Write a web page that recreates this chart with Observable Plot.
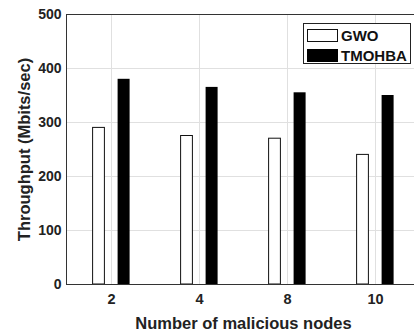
<!DOCTYPE html>
<html>
<head>
<meta charset="utf-8">
<script src="https://cdn.jsdelivr.net/npm/d3@7"></script>
<script src="https://cdn.jsdelivr.net/npm/@observablehq/plot@0.6"></script>
<style>
  html, body { margin: 0; padding: 0; background: white; }
  #wrap { position: relative; width: 414px; height: 336px; overflow: hidden; }
  #legend { position: absolute; left: 303px; top: 23px; width: 106px; height: 39px; border: 1px solid #222; background: white;
            font-family: "Liberation Sans", Arial, sans-serif; font-weight: bold; font-size: 15px; color: #111; }
  .row { position: absolute; left: 3px; display: flex; align-items: center; }
  .sw { width: 31px; height: 13px; box-sizing: border-box; margin-right: 3px; }
</style>
</head>
<body>
<div id="wrap">
  <div id="chart"></div>
  <div id="legend"></div>
</div>
<script>
const categories = ["2", "4", "8", "10"];
const gwo = [290, 275, 270, 240];
const tmohba = [380, 365, 355, 350];
const seriesNames = ["GWO", "TMOHBA"];
const yTicks = [0, 100, 200, 300, 400, 500];
const xLabel = "Number of malicious nodes";
const yLabel = "Throughput (Mbits/sec)";

const data = categories.map((c, i) => ({cat: c, gwo: gwo[i], tmohba: tmohba[i]}));

const chart = Plot.plot({
  width: 414,
  height: 336,
  marginLeft: 66,
  marginRight: -6,
  marginTop: 14,
  marginBottom: 52,
  style: {fontFamily: "'Liberation Sans', Arial, sans-serif", fontWeight: "bold", color: "#222", background: "white"},
  x: {domain: categories, padding: 0},
  y: {domain: [0, 500]},
  marks: [
    Plot.gridY(yTicks, {stroke: "#e0e0e0", strokeOpacity: 1}),
    Plot.gridX(categories, {stroke: "#e0e0e0", strokeOpacity: 1}),
    Plot.barY(data, {x: "cat", y: "gwo", fill: "white", stroke: "#111", strokeWidth: 1, insetLeft: 25.6, insetRight: 50.6}),
    Plot.barY(data, {x: "cat", y: "tmohba", fill: "black", insetLeft: 50.6, insetRight: 25.4}),
    Plot.frame({stroke: "#333", strokeWidth: 1}),
    Plot.axisY(yTicks, {tickSize: 0, tickPadding: 5, fontSize: 14, label: null, fill: "#222"}),
    Plot.axisX({tickSize: 0, tickPadding: 9, fontSize: 14.5, label: null, fill: "#222"}),
    Plot.text([xLabel], {frameAnchor: "bottom", lineAnchor: "middle", dy: 39, fontSize: 16.5, fill: "#222"}),
    Plot.text([yLabel], {frameAnchor: "left", textAnchor: "middle", lineAnchor: "middle", dx: -42, rotate: -90, fontSize: 16.5, fill: "#222"})
  ]
});
document.getElementById("chart").appendChild(chart);

const legend = document.getElementById("legend");
const swStyles = [{background: "white", border: "1px solid #111"}, {background: "black", border: "1px solid black"}];
seriesNames.forEach((name, i) => {
  const row = document.createElement("div");
  row.className = "row";
  row.style.top = (i === 0 ? 3 : 23) + "px";
  const sw = document.createElement("div");
  sw.className = "sw";
  Object.assign(sw.style, swStyles[i]);
  const t = document.createElement("span");
  t.textContent = name;
  row.appendChild(sw);
  row.appendChild(t);
  legend.appendChild(row);
});
</script>
</body>
</html>
